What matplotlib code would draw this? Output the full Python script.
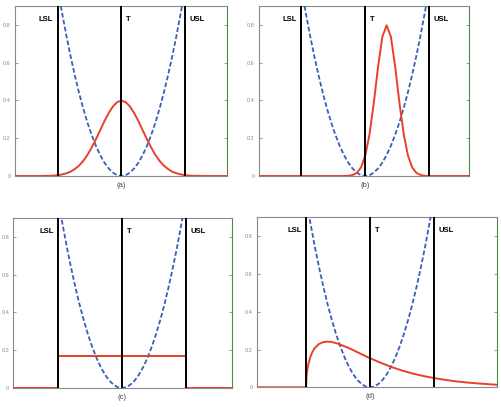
import matplotlib
matplotlib.use("Agg")
import matplotlib.pyplot as plt

plt.rcParams['font.family'] = ['Liberation Sans', 'DejaVu Sans']

# spec limits and target
LSL, T, USL = -3.0, 0.0, 3.0
limit_labels = ["LSL", "T", "USL"]
y_ticks = [0, 0.2, 0.4, 0.6, 0.8]
y_tick_labels = ["0", "0.2", "0.4", "0.6", "0.8"]

# quadratic loss
loss_x = [-3.0, -2.8, -2.6, -2.4, -2.2, -2.0, -1.8, -1.6, -1.4, -1.2, -1.0,
          -0.8, -0.6, -0.4, -0.2, 0.0, 0.2, 0.4, 0.6, 0.8, 1.0, 1.2, 1.4,
          1.6, 1.8, 2.0, 2.2, 2.4, 2.6, 2.8, 3.0]
loss_y = [1.0, 0.871, 0.751, 0.64, 0.538, 0.444, 0.36, 0.284, 0.218, 0.16,
          0.111, 0.071, 0.04, 0.018, 0.004, 0.0, 0.004, 0.018, 0.04, 0.071,
          0.111, 0.16, 0.218, 0.284, 0.36, 0.444, 0.538, 0.64, 0.751, 0.871,
          1.0]

# grid for the two bell curves
grid_x = [-5.0, -4.8, -4.6, -4.4, -4.2, -4.0, -3.8, -3.6, -3.4, -3.2, -3.0,
          -2.8, -2.6, -2.4, -2.2, -2.0, -1.8, -1.6, -1.4, -1.2, -1.0, -0.8,
          -0.6, -0.4, -0.2, 0.0, 0.2, 0.4, 0.6, 0.8, 1.0, 1.2, 1.4, 1.6, 1.8,
          2.0, 2.2, 2.4, 2.6, 2.8, 3.0, 3.2, 3.4, 3.6, 3.8, 4.0, 4.2, 4.4,
          4.6, 4.8, 5.0]

# (a) centred process
dens_a = [0, 0, 0, 0, 0, 0, 0, 0.001, 0.001, 0.002, 0.004, 0.008, 0.014,
          0.022, 0.036, 0.054, 0.079, 0.111, 0.150, 0.194, 0.242, 0.290,
          0.333, 0.368, 0.391, 0.399, 0.391, 0.368, 0.333, 0.290, 0.242,
          0.194, 0.150, 0.111, 0.079, 0.054, 0.036, 0.022, 0.014, 0.008,
          0.004, 0.002, 0.001, 0.001, 0, 0, 0, 0, 0, 0, 0]

# (b) shifted, narrow process
dens_b = [0, 0, 0, 0, 0, 0, 0, 0, 0, 0, 0, 0, 0, 0, 0, 0, 0, 0, 0, 0, 0,
          0.001, 0.005, 0.016, 0.045, 0.108, 0.222, 0.388, 0.579, 0.737,
          0.798, 0.737, 0.579, 0.388, 0.222, 0.108, 0.045, 0.016, 0.005,
          0.001, 0, 0, 0, 0, 0, 0, 0, 0, 0, 0, 0]

# (c) uniform between the limits
unif_x = [-5.2, -3.0, -3.0, 3.0, 3.0, 5.2]
unif_y = [0, 0, 0.167, 0.167, 0, 0]

# (d) skewed process starting at LSL
skew_x = [-5.4, -3.0, -2.98, -2.95, -2.9, -2.8, -2.7, -2.6, -2.4, -2.2, -2.0,
          -1.8, -1.5, -1.0, -0.5, 0.0, 0.5, 1.0, 1.5, 2.0, 2.5, 3.0, 3.5,
          4.0, 4.5, 5.0, 5.5, 6.0]
skew_y = [0, 0, 0.056, 0.087, 0.120, 0.161, 0.188, 0.207, 0.229, 0.239,
          0.242, 0.240, 0.231, 0.208, 0.181, 0.154, 0.130, 0.108, 0.089,
          0.073, 0.060, 0.049, 0.040, 0.032, 0.026, 0.021, 0.017, 0.013]

RED = "#e8402c"
BLUE = "#3a60b4"
GREEN = "#4a8a4a"
GRAY = "#8a8a8a"

W, H = 501, 407


def add_panel(fig, box, xlim, xs, ys, tag):
    # box is (left, top, right, bottom) in pixels
    l, t, r, b = box
    ax = fig.add_axes([l / W, (H - b) / H, (r - l) / W, (b - t) / H])
    ax.set_xlim(*xlim)
    ax.set_ylim(0, 0.9)

    ax.plot(loss_x, loss_y, color=BLUE, lw=1.3, dashes=(2.6, 1.3), zorder=3)
    ax.plot(xs, ys, color=RED, lw=1.4, zorder=4)
    for x in (LSL, T, USL):
        ax.axvline(x, color="black", lw=1.4, zorder=5)

    ax.set_xticks([])
    ax.set_yticks(y_ticks)
    ax.set_yticklabels(y_tick_labels)
    ax.tick_params(axis="y", direction="in", length=2.5, width=0.6,
                   color=GRAY, labelsize=4, labelcolor=GRAY, pad=3,
                   right=True)
    for side in ("left", "top", "bottom"):
        ax.spines[side].set_color(GRAY)
        ax.spines[side].set_linewidth(0.8)
    ax.spines["right"].set_color(GREEN)
    ax.spines["right"].set_linewidth(0.8)

    # limit labels near the top
    trans = ax.get_xaxis_transform()
    ax.text(LSL - 0.2, 0.94, limit_labels[0], transform=trans, ha="right",
            va="top", fontsize=5.5, fontweight="bold")
    ax.text(T + 0.22, 0.94, limit_labels[1], transform=trans, ha="left",
            va="top", fontsize=5.5, fontweight="bold")
    ax.text(USL + 0.22, 0.94, limit_labels[2], transform=trans, ha="left",
            va="top", fontsize=5.5, fontweight="bold")

    ax.text(T, -0.055, tag, transform=trans, ha="center", va="center",
            fontsize=5.5, color="#444444")
    return ax


fig = plt.figure(figsize=(W / 100, H / 100), dpi=100)

add_panel(fig, (15, 6, 227, 176), (-5.0, 4.96), grid_x, dens_a, "(a)")
add_panel(fig, (259, 6, 469, 176), (-4.98, 4.86), grid_x, dens_b, "(b)")
add_panel(fig, (13.3, 218, 231.7, 388), (-5.11, 5.16), unif_x, unif_y, "(c)")
add_panel(fig, (256.7, 217.3, 497.3, 387.3), (-5.32, 5.98), skew_x, skew_y,
          "(d)")

fig.savefig("out.png", dpi=100)
